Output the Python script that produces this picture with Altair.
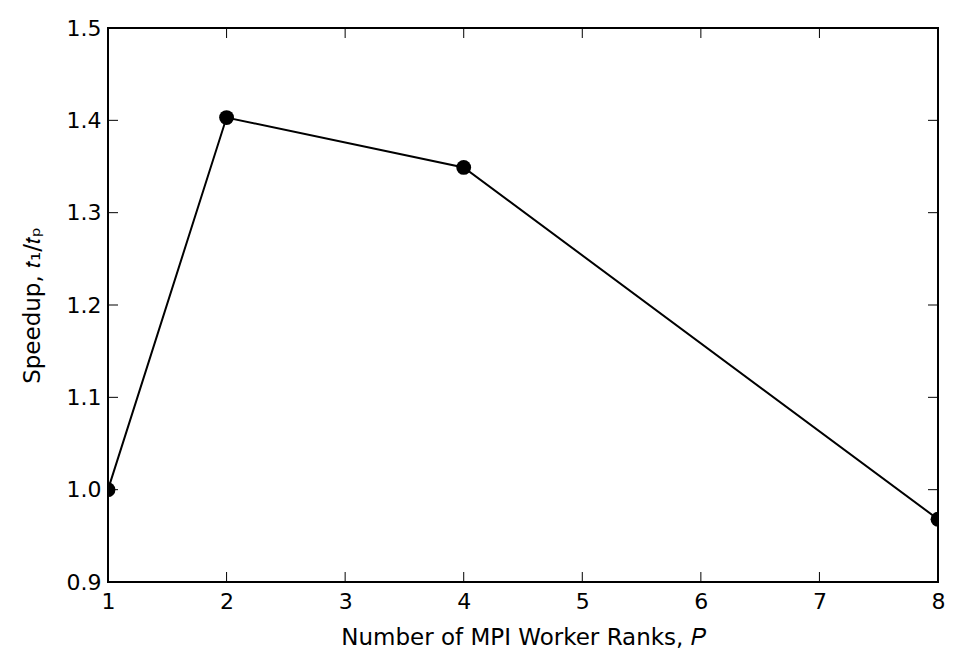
import altair as alt
import pandas as pd

ranks = [1, 2, 4, 8]
speedup = [1.0, 1.403, 1.349, 0.968]

x_ticks = [1, 2, 3, 4, 5, 6, 7, 8]
y_ticks = [0.9, 1.0, 1.1, 1.2, 1.3, 1.4, 1.5]

W, H = 830, 554

df = pd.DataFrame({"P": ranks, "speedup": speedup})
xt = pd.DataFrame({"t": x_ticks})
yt = pd.DataFrame({"t": y_ticks})

xscale = alt.Scale(domain=[1, 8], nice=False, zero=False)
yscale = alt.Scale(domain=[0.9, 1.5], nice=False, zero=False)

FONT = "DejaVu Sans"

xaxis = alt.Axis(values=x_ticks, format="d", ticks=False, domain=False, grid=False,
                 labelFont=FONT, labelFontSize=22, labelColor="black", labelPadding=9,
                 labelFlush=False,
                 title="Number of MPI Worker Ranks,  𝑃", titleFont=FONT, titleFontSize=23,
                 titleFontWeight="normal", titleColor="black", titlePadding=14)
yaxis = alt.Axis(values=y_ticks, format=".1f", ticks=False, domain=False, grid=False,
                 labelFont=FONT, labelFontSize=22, labelColor="black", labelPadding=7,
                 labelFlush=False,
                 title="Speedup,  𝑡₁/𝑡ₚ", titleFont=FONT, titleFontSize=23,
                 titleFontWeight="normal", titleColor="black", titlePadding=22)

line = alt.Chart(df).mark_line(color="black", strokeWidth=2, clip=True).encode(
    x=alt.X("P:Q", scale=xscale, axis=xaxis),
    y=alt.Y("speedup:Q", scale=yscale, axis=yaxis),
)
pts = alt.Chart(df).mark_circle(color="black", opacity=1, size=220, clip=True).encode(
    x=alt.X("P:Q", scale=xscale),
    y=alt.Y("speedup:Q", scale=yscale),
)

tick_style = dict(color="black", thickness=1, size=20, clip=True, opacity=1)
xb = alt.Chart(xt).mark_tick(orient="vertical", **tick_style).encode(
    x=alt.X("t:Q", scale=xscale), y=alt.value(H))
xtp = alt.Chart(xt).mark_tick(orient="vertical", **tick_style).encode(
    x=alt.X("t:Q", scale=xscale), y=alt.value(0))
yl = alt.Chart(yt).mark_tick(orient="horizontal", **tick_style).encode(
    y=alt.Y("t:Q", scale=yscale), x=alt.value(0))
yr = alt.Chart(yt).mark_tick(orient="horizontal", **tick_style).encode(
    y=alt.Y("t:Q", scale=yscale), x=alt.value(W))

chart = alt.layer(xb, xtp, yl, yr, line, pts).properties(
    width=W, height=H,
    background="white",
    autosize=alt.AutoSizeParams(type="none"),
    padding={"left": 100, "top": 20, "right": 11, "bottom": 73},
).configure_view(stroke="black", strokeWidth=2)

chart.save("out.html", embed_options={"renderer": "svg", "actions": False})
